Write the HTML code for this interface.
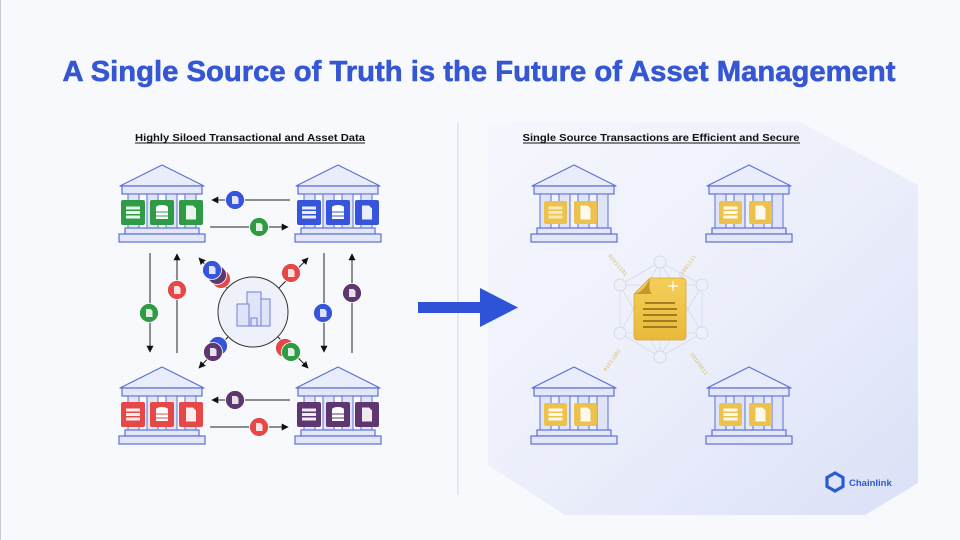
<!DOCTYPE html>
<html><head><meta charset="utf-8"><style>
html,body{margin:0;padding:0;background:#f8f9fc;}
svg{display:block;font-family:"Liberation Sans",sans-serif;}
</style></head><body>
<svg width="960" height="540" viewBox="0 0 960 540" xmlns="http://www.w3.org/2000/svg">
<defs>
<linearGradient id="pg" x1="0" y1="0" x2="1" y2="1">
<stop offset="0" stop-color="#f6f7fd"/><stop offset="0.5" stop-color="#eceffb"/><stop offset="1" stop-color="#dae0f7"/>
</linearGradient>
<linearGradient id="doc" x1="0" y1="0" x2="0" y2="1">
<stop offset="0" stop-color="#f4cf5a"/><stop offset="1" stop-color="#e9b93a"/>
</linearGradient>
<marker id="ah" viewBox="0 0 10 10" refX="9" refY="5" markerWidth="7" markerHeight="7" orient="auto-start-reverse">
<path d="M0,0 L10,5 L0,10 z" fill="#111"/>
</marker>
<g id="bank">
<polygon points="44,0 2,21 86,21" fill="#e9ecfa" stroke="#5d70d8" stroke-width="1.2" stroke-linejoin="round"/>
<rect x="4" y="21" width="80" height="8" fill="#e3e7f8" stroke="#5d70d8" stroke-width="1.2"/>
<rect x="10" y="29" width="11" height="34" fill="#dfe4f8" stroke="#5d70d8" stroke-width="1"/>
<rect x="29" y="29" width="11" height="34" fill="#dfe4f8" stroke="#5d70d8" stroke-width="1"/>
<rect x="48" y="29" width="11" height="34" fill="#dfe4f8" stroke="#5d70d8" stroke-width="1"/>
<rect x="67" y="29" width="11" height="34" fill="#dfe4f8" stroke="#5d70d8" stroke-width="1"/>
<rect x="7" y="63" width="74" height="6" fill="#e3e7f8" stroke="#5d70d8" stroke-width="1.2"/>
<rect x="1" y="69" width="86" height="8" fill="#e3e7f8" stroke="#5d70d8" stroke-width="1.2"/>
</g>
<g id="srv"><rect x="-7" y="-6" width="14" height="3" fill="#fff" opacity=".9"/><rect x="-7" y="-1.5" width="14" height="3" fill="#fff" opacity=".9"/><rect x="-7" y="3" width="14" height="3" fill="#fff" opacity=".9"/></g>
<g id="db"><ellipse cx="0" cy="-5" rx="6" ry="2.5" fill="#fff"/><rect x="-6" y="-4" width="12" height="3" fill="#fff"/><rect x="-6" y="0" width="12" height="3" fill="#fff"/><rect x="-6" y="4" width="12" height="2.5" fill="#fff"/></g>
<g id="dc"><path d="M-5,-7 h7 l3,3 v11 h-10 z" fill="#fff" opacity=".9"/></g>
<g id="bd"><path d="M-3,-4 h4.5 l2,2 v6 h-6.5 z" fill="#fff" opacity=".85"/></g>
</defs>

<rect width="960" height="540" fill="#f8f9fc"/>
<line x1="0.5" y1="0" x2="0.5" y2="540" stroke="#c9cbd2"/>

<text x="479" y="81" font-size="29" font-weight="bold" fill="#3557d3" stroke="#3557d3" stroke-width="0.6" text-anchor="middle" textLength="833" lengthAdjust="spacingAndGlyphs">A Single Source of Truth is the Future of Asset Management</text>

<line x1="458" y1="122" x2="458" y2="495" stroke="#e2e4ec" stroke-width="1.5"/>
<polygon points="488,122 800,122 918,185 918,483 865,515 565,515 488,465" fill="url(#pg)"/>

<text x="250" y="141" font-size="10" font-weight="bold" fill="#111" text-anchor="middle" textLength="230" lengthAdjust="spacingAndGlyphs">Highly Siloed Transactional and Asset Data</text>
<line x1="135" y1="143" x2="365" y2="143" stroke="#111" stroke-width="0.9"/>
<text x="661" y="141" font-size="10" font-weight="bold" fill="#111" text-anchor="middle" textLength="277" lengthAdjust="spacingAndGlyphs">Single Source Transactions are Efficient and Secure</text>
<line x1="523" y1="143" x2="800" y2="143" stroke="#111" stroke-width="0.9"/>

<!-- LEFT BANKS -->
<g transform="translate(118,165)"><use href="#bank"/>
<rect x="3" y="35" width="24" height="25" rx="2" fill="#2e9b45"/><use href="#srv" x="15" y="47.5"/>
<rect x="32" y="35" width="24" height="25" rx="2" fill="#2e9b45"/><use href="#db" x="44" y="47.5"/>
<rect x="61" y="35" width="24" height="25" rx="2" fill="#2e9b45"/><use href="#dc" x="73" y="47.5"/></g>
<g transform="translate(294,165)"><use href="#bank"/>
<rect x="3" y="35" width="24" height="25" rx="2" fill="#3655dc"/><use href="#srv" x="15" y="47.5"/>
<rect x="32" y="35" width="24" height="25" rx="2" fill="#3655dc"/><use href="#db" x="44" y="47.5"/>
<rect x="61" y="35" width="24" height="25" rx="2" fill="#3655dc"/><use href="#dc" x="73" y="47.5"/></g>
<g transform="translate(118,367)"><use href="#bank"/>
<rect x="3" y="35" width="24" height="25" rx="2" fill="#e64848"/><use href="#srv" x="15" y="47.5"/>
<rect x="32" y="35" width="24" height="25" rx="2" fill="#e64848"/><use href="#db" x="44" y="47.5"/>
<rect x="61" y="35" width="24" height="25" rx="2" fill="#e64848"/><use href="#dc" x="73" y="47.5"/></g>
<g transform="translate(294,367)"><use href="#bank"/>
<rect x="3" y="35" width="24" height="25" rx="2" fill="#5e3670"/><use href="#srv" x="15" y="47.5"/>
<rect x="32" y="35" width="24" height="25" rx="2" fill="#5e3670"/><use href="#db" x="44" y="47.5"/>
<rect x="61" y="35" width="24" height="25" rx="2" fill="#5e3670"/><use href="#dc" x="73" y="47.5"/></g>

<!-- arrows -->
<g stroke="#222" stroke-width="1" fill="none">
<line x1="290" y1="200" x2="212" y2="200" marker-end="url(#ah)"/>
<line x1="210" y1="227" x2="288" y2="227" marker-end="url(#ah)"/>
<line x1="150" y1="253" x2="150" y2="352" marker-end="url(#ah)"/>
<line x1="177" y1="353" x2="177" y2="254" marker-end="url(#ah)"/>
<line x1="324" y1="253" x2="324" y2="352" marker-end="url(#ah)"/>
<line x1="352" y1="353" x2="352" y2="254" marker-end="url(#ah)"/>
<line x1="290" y1="400" x2="212" y2="400" marker-end="url(#ah)"/>
<line x1="210" y1="427" x2="288" y2="427" marker-end="url(#ah)"/>
<line x1="228" y1="289" x2="199" y2="258" marker-end="url(#ah)"/>
<line x1="278" y1="289" x2="308" y2="258" marker-end="url(#ah)"/>
<line x1="228" y1="337" x2="199" y2="368" marker-end="url(#ah)"/>
<line x1="278" y1="337" x2="308" y2="368" marker-end="url(#ah)"/>
</g>

<!-- badges -->
<g stroke="#fff" stroke-width="0.8">
<circle cx="235" cy="200" r="9.5" fill="#3655dc"/><circle cx="259" cy="227" r="9.5" fill="#2e9b45"/>
<circle cx="149" cy="313" r="9.5" fill="#2e9b45"/><circle cx="177" cy="290" r="9.5" fill="#e64848"/>
<circle cx="323" cy="313" r="9.5" fill="#3655dc"/><circle cx="352" cy="293" r="9.5" fill="#5e3670"/>
<circle cx="235" cy="400" r="9.5" fill="#5e3670"/><circle cx="259" cy="427" r="9.5" fill="#e64848"/>
<circle cx="221" cy="279" r="9.5" fill="#e64848"/><circle cx="217" cy="275" r="9.5" fill="#5e3670"/><circle cx="212" cy="270" r="9.5" fill="#3655dc"/>
<circle cx="291" cy="273" r="9.5" fill="#e64848"/>
<circle cx="218" cy="346" r="9.5" fill="#3655dc"/><circle cx="213" cy="352" r="9.5" fill="#5e3670"/>
<circle cx="285" cy="348" r="9.5" fill="#e64848"/><circle cx="291" cy="352" r="9.5" fill="#2e9b45"/>
</g>
<g>
<use href="#bd" x="235" y="200"/><use href="#bd" x="259" y="227"/><use href="#bd" x="149" y="313"/><use href="#bd" x="177" y="290"/>
<use href="#bd" x="323" y="313"/><use href="#bd" x="352" y="293"/><use href="#bd" x="235" y="400"/><use href="#bd" x="259" y="427"/>
<use href="#bd" x="212" y="270"/><use href="#bd" x="291" y="273"/><use href="#bd" x="213" y="352"/><use href="#bd" x="291" y="352"/>
</g>

<!-- center -->
<circle cx="253" cy="312" r="35" fill="#eef0fa" stroke="#333" stroke-width="1"/>
<g fill="#dfe4f7" stroke="#6e80d8" stroke-width="1">
<rect x="247" y="292" width="14" height="34"/>
<rect x="237" y="304" width="12" height="22"/>
<rect x="261" y="299" width="9" height="27"/>
<rect x="251" y="318" width="6" height="8"/>
</g>

<!-- big arrow -->
<rect x="418" y="302" width="64" height="11" fill="#2f53d6"/>
<polygon points="480,288 518,307.5 480,327" fill="#2f53d6"/>

<!-- RIGHT network -->
<g stroke="#d6dae8" stroke-width="0.8" fill="none">
<polygon points="660,262 702,285 702,333 660,357 620,333 620,285"/>
<line x1="660" y1="262" x2="620" y2="333"/><line x1="660" y1="262" x2="702" y2="333"/>
<line x1="660" y1="357" x2="620" y2="285"/><line x1="660" y1="357" x2="702" y2="285"/>
<line x1="620" y1="285" x2="702" y2="285"/><line x1="620" y1="333" x2="702" y2="333"/>
<line x1="660" y1="262" x2="660" y2="357"/>
</g>
<g fill="#eef0f8" stroke="#d0d5e6" stroke-width="0.8">
<circle cx="660" cy="262" r="6"/><circle cx="660" cy="357" r="6"/><circle cx="620" cy="285" r="6"/><circle cx="620" cy="333" r="6"/><circle cx="702" cy="285" r="6"/><circle cx="702" cy="333" r="6"/>
</g>
<g font-family="Liberation Mono,monospace" font-size="5.5" fill="#d8be6a">
<text transform="translate(608,256) rotate(50)">01011101</text>
<text transform="translate(681,278) rotate(-55)">11001111</text>
<text transform="translate(606,372) rotate(-55)">01011001</text>
<text transform="translate(690,354) rotate(55)">10100011</text>
</g>
<path d="M650,278 h32 q4,0 4,4 v54 q0,4 -4,4 h-44 q-4,0 -4,-4 v-42 z" fill="url(#doc)" stroke="#d9a730" stroke-width="0.8"/>
<path d="M634,294 q10,-2 16,-16 q-2,12 2,16 z" fill="#c9962b"/>
<g stroke="#8a6512" stroke-width="1.6">
<line x1="645" y1="303" x2="675" y2="303"/><line x1="643" y1="309" x2="677" y2="309"/><line x1="643" y1="315" x2="677" y2="315"/><line x1="643" y1="321" x2="677" y2="321"/><line x1="643" y1="327" x2="677" y2="327"/>
</g>
<path d="M673,281 v10 M668,286 h10" stroke="#fff" stroke-width="1.2"/>

<!-- RIGHT BANKS -->
<g transform="translate(530,165)"><use href="#bank"/>
<rect x="14" y="36" width="23" height="23" rx="2" fill="#ecc24c"/><use href="#srv" x="25.5" y="47.5" opacity=".7"/>
<rect x="44" y="36" width="23" height="23" rx="2" fill="#ecc24c"/><use href="#dc" x="55.5" y="47.5"/></g>
<g transform="translate(705,165)"><use href="#bank"/>
<rect x="14" y="36" width="23" height="23" rx="2" fill="#ecc24c"/><use href="#srv" x="25.5" y="47.5"/>
<rect x="44" y="36" width="23" height="23" rx="2" fill="#ecc24c"/><use href="#dc" x="55.5" y="47.5"/></g>
<g transform="translate(530,367)"><use href="#bank"/>
<rect x="14" y="36" width="23" height="23" rx="2" fill="#ecc24c"/><use href="#srv" x="25.5" y="47.5"/>
<rect x="44" y="36" width="23" height="23" rx="2" fill="#ecc24c"/><use href="#dc" x="55.5" y="47.5"/></g>
<g transform="translate(705,367)"><use href="#bank"/>
<rect x="14" y="36" width="23" height="23" rx="2" fill="#ecc24c"/><use href="#srv" x="25.5" y="47.5"/>
<rect x="44" y="36" width="23" height="23" rx="2" fill="#ecc24c"/><use href="#dc" x="55.5" y="47.5"/></g>

<!-- chainlink -->
<polygon points="835,473 843,477.5 843,486.5 835,491 827,486.5 827,477.5" fill="none" stroke="#2a5ada" stroke-width="3.2"/>
<text x="849" y="486" font-size="9.5" font-weight="bold" fill="#2a5ada">Chainlink</text>
</svg>
</body></html>
